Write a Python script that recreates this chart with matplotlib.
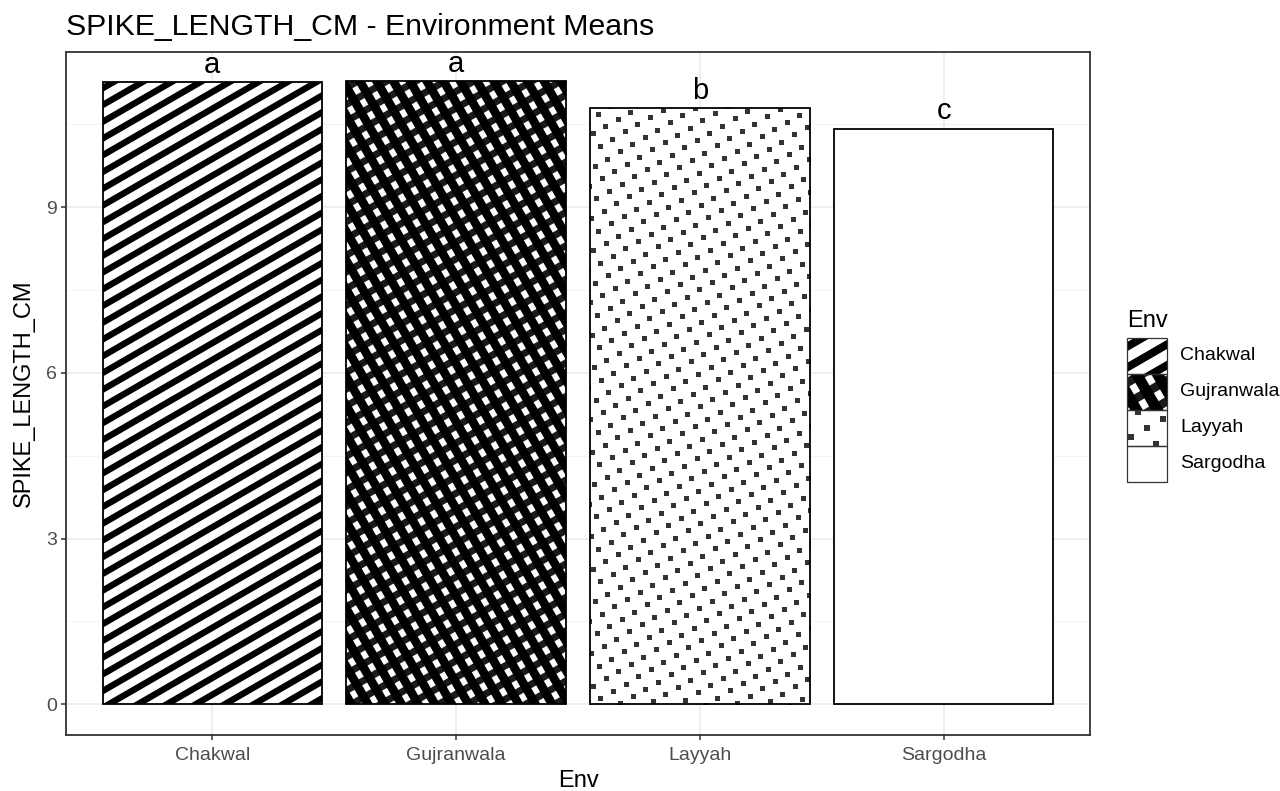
import numpy as np
import matplotlib.pyplot as plt
from matplotlib.patches import Rectangle
from matplotlib.collections import LineCollection
from matplotlib.lines import Line2D
from matplotlib.transforms import IdentityTransform

plt.rcParams['font.family'] = ['Liberation Sans', 'DejaVu Sans']

# data
envs = ['Chakwal', 'Gujranwala', 'Layyah', 'Sargodha']
means = [11.26, 11.28, 10.79, 10.42]
letters = ['a', 'a', 'b', 'c']
patterns = ['stripe', 'crosshatch', 'dots', 'none']
yticks = [0, 3, 6, 9]

W, H = 1280, 791
fig = plt.figure(figsize=(W / 100, H / 100), dpi=100)
ax = fig.add_axes([66 / W, (H - 735) / H, (1090 - 66) / W, (735 - 52) / H])

x = np.arange(1, len(envs) + 1)
ax.set_xlim(0.4, 4.6)
ax.set_ylim(-0.556, 11.81)

# grid like theme_bw
for v in yticks:
    ax.axhline(v, color='#EBEBEB', lw=1.1, zorder=0)
for v in np.array(yticks) + 1.5:
    ax.axhline(v, color='#F2F2F2', lw=0.6, zorder=0)
for v in x:
    ax.axvline(v, color='#EBEBEB', lw=1.1, zorder=0)

bars = ax.bar(x, means, width=0.9, color='white', edgecolor='none', zorder=2)
ax.bar(x, means, width=0.9, fill=False, edgecolor='black', lw=1.3, zorder=5)


def fill_pattern(owner, clip, x0, y0, x1, y1, kind, s=14.5, ang=30, ms=3.6):
    # draw a pattern in pixel coords, clipped to the given patch
    if kind == 'none':
        return
    c = np.array([(x0 + x1) / 2, (y0 + y1) / 2])
    R = np.hypot(x1 - x0, y1 - y0) / 2 + s
    n_lines = int(R / s) + 2
    t = np.radians(ang)
    d = np.array([np.cos(t), np.sin(t)])
    nrm = np.array([-np.sin(t), np.cos(t)])
    k_all = range(-n_lines, n_lines + 1)
    arts = []
    if kind == 'stripe':
        segs = [[c + k * s * nrm - R * d, c + k * s * nrm + R * d] for k in k_all]
        arts.append(LineCollection(segs, colors='black', linewidths=4.6 * s / 14.5))
    elif kind == 'crosshatch':
        segs = [[c + k * s * nrm - R * d, c + k * s * nrm + R * d] for k in k_all]
        arts.append(LineCollection(segs, colors='#1a1a1a', linewidths=5.0 * s / 14.5))
        segs = [[c + k * s * d - R * nrm, c + k * s * d + R * nrm] for k in k_all]
        arts.append(LineCollection(segs, colors='black', linewidths=6.3 * s / 14.5))
    else:
        pts = []
        for i in k_all:
            for j in k_all:
                p = c + i * s * d + j * s * nrm
                if x0 - 3 <= p[0] <= x1 + 3 and y0 - 3 <= p[1] <= y1 + 3:
                    pts.append(p)
        pts = np.array(pts)
        arts.append(Line2D(pts[:, 0], pts[:, 1], ls='none', marker='s',
                           color='#333333', ms=ms, mew=0))
    for art in arts:
        art.set_transform(IdentityTransform())
        art.set_zorder(3)
        owner.add_artist(art)
        art.set_clip_path(clip)


for b, kind in zip(bars, patterns):
    (bx0, by0), (bx1, by1) = ax.transData.transform(
        [(b.get_x(), 0), (b.get_x() + b.get_width(), b.get_height())])
    fill_pattern(ax, b, bx0, by0, bx1, by1, kind)

for xi, m, lab in zip(x, means, letters):
    ax.annotate(lab, (xi, m), xytext=(0, 2.5), textcoords='offset points',
                ha='center', va='bottom', fontsize=21, color='black')

ax.set_xticks(x)
ax.set_xticklabels(envs)
ax.set_yticks(yticks)
ax.tick_params(axis='both', colors='#333333', labelcolor='#4D4D4D',
               labelsize=14, length=3.5, width=1.1, pad=3)
ax.tick_params(axis='x', pad=5)
for sp in ax.spines.values():
    sp.set_color('#333333')
    sp.set_linewidth(1.3)

fig.text(66 / W, 1 - 35 / H, 'SPIKE_LENGTH_CM - Environment Means',
         fontsize=21.8, va='baseline', ha='left')
fig.text(578 / W, 1 - 787 / H, 'Env', fontsize=17, va='baseline', ha='center')
fig.text(24 / W, 1 - 393.5 / H, 'SPIKE_LENGTH_CM', fontsize=17,
         rotation=90, va='center', ha='center')

# legend drawn by hand
fig.text(1127 / W, 1 - 327 / H, 'Env', fontsize=17, va='baseline', ha='left')
kx0, kx1 = 1127, 1167
for i, (lab, kind) in enumerate(zip(envs, patterns)):
    ky_top = 338 + 36 * i
    ky_bot = ky_top + 36
    rect = Rectangle((kx0, H - ky_bot), kx1 - kx0, 36, transform=IdentityTransform(),
                     facecolor='white', edgecolor='none', zorder=2)
    fig.add_artist(rect)
    fill_pattern(fig, rect, kx0, H - ky_bot, kx1, H - ky_top, kind, s=18, ms=4.0)
    edge = Rectangle((kx0, H - ky_bot), kx1 - kx0, 36, transform=IdentityTransform(),
                     fill=False, edgecolor='#333333', lw=0.9, zorder=5)
    fig.add_artist(edge)
    fig.text(1180 / W, 1 - (ky_top + 18) / H, lab, fontsize=14,
             va='center', ha='left')

fig.savefig('out.png', dpi=100)
